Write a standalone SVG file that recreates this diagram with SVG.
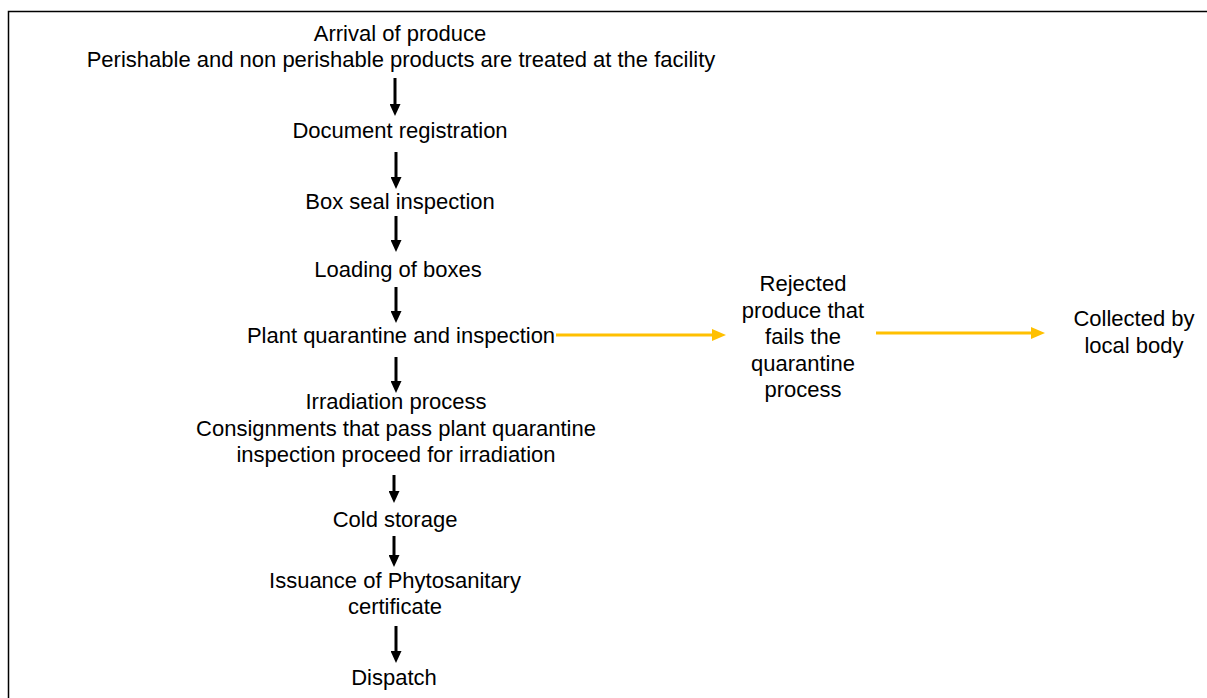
<svg xmlns="http://www.w3.org/2000/svg" width="1207" height="698" viewBox="0 0 1207 698">
<style>
text{font-family:"Liberation Sans",Arial,sans-serif;font-size:22px;fill:#000;text-anchor:middle}
.blk{stroke:#000;stroke-width:3;fill:none}
.yel{stroke:#FFC000;stroke-width:3;fill:none}
</style>
<defs>
<marker id="ab" markerWidth="12" markerHeight="11" refX="0" refY="5.5" orient="auto" markerUnits="userSpaceOnUse" viewBox="0 0 12 11">
<path d="M0,0 L12,5.5 L0,11 Z" fill="#000"/>
</marker>
<marker id="ay" markerWidth="14" markerHeight="12" refX="0" refY="6" orient="auto" markerUnits="userSpaceOnUse" viewBox="0 0 14 12">
<path d="M0,0 L14,6 L0,12 Z" fill="#FFC000"/>
</marker>
</defs>
<rect x="8.5" y="11.5" width="1220" height="720" fill="#fff" stroke="#000" stroke-width="1.5"/>
<g transform="translate(0,1)">
<g id="n1"><text x="400" y="40">Arrival of produce</text><text x="401" y="66">Perishable and non perishable products are treated at the facility</text></g>
<g id="n2"><text x="400" y="137">Document registration</text></g>
<g id="n3"><text x="400" y="208">Box seal inspection</text></g>
<g id="n4"><text x="398" y="276">Loading of boxes</text></g>
<g id="n5"><text x="401" y="342">Plant quarantine and inspection</text></g>
<g id="n6"><text x="396" y="408">Irradiation process</text><text x="396" y="435">Consignments that pass plant quarantine</text><text x="396" y="461">inspection proceed for irradiation</text></g>
<g id="n7"><text x="395" y="526">Cold storage</text></g>
<g id="n8"><text x="395" y="587">Issuance of Phytosanitary</text><text x="395" y="613">certificate</text></g>
<g id="n9"><text x="394" y="684">Dispatch</text></g>
<g id="n10"><text x="803" y="290">Rejected</text><text x="803" y="317">produce that</text><text x="803" y="343">fails the</text><text x="803" y="370">quarantine</text><text x="803" y="396">process</text></g>
<g id="n11"><text x="1134" y="325">Collected by</text><text x="1134" y="352">local body</text></g>
</g>
<g id="connectors">
<line class="blk" x1="395" y1="78" x2="395" y2="104" marker-end="url(#ab)"/>
<line class="blk" x1="396" y1="152" x2="396" y2="177" marker-end="url(#ab)"/>
<line class="blk" x1="396" y1="216" x2="396" y2="240" marker-end="url(#ab)"/>
<line class="blk" x1="396" y1="287" x2="396" y2="311" marker-end="url(#ab)"/>
<line class="blk" x1="396" y1="357" x2="396" y2="381" marker-end="url(#ab)"/>
<line class="blk" x1="394" y1="475" x2="394" y2="491" marker-end="url(#ab)"/>
<line class="blk" x1="394" y1="536" x2="394" y2="555" marker-end="url(#ab)"/>
<line class="blk" x1="396" y1="626" x2="396" y2="651" marker-end="url(#ab)"/>
<line class="yel" x1="556" y1="335" x2="712" y2="335" marker-end="url(#ay)"/>
<line class="yel" x1="876" y1="333" x2="1031" y2="333" marker-end="url(#ay)"/>
</g>
</svg>
